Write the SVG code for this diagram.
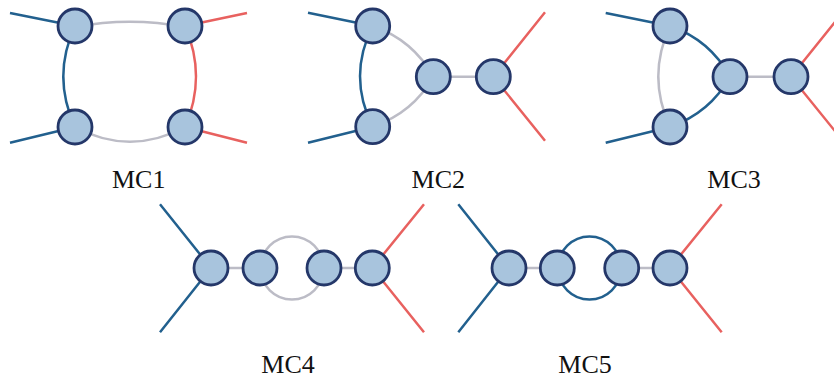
<svg xmlns="http://www.w3.org/2000/svg" width="834" height="383" viewBox="0 0 834 383">
<style>
.n{fill:#a8c4dd;stroke:#243769;stroke-width:2.8}
.e{fill:none;stroke-width:2.5;stroke-linecap:butt}
.b{stroke:#22608e}
.r{stroke:#e8615f}
.g{stroke:#bcbcc6}
.t{font-family:"Liberation Serif","DejaVu Serif",serif;font-size:26px;fill:#111;text-anchor:middle}
</style>
<rect width="834" height="383" fill="#fff"/>
<g id="connectors">
<path class="e b" d="M10,13 L75,26 M10,142.7 L75,127"/>
<path class="e r" d="M247,13 L185,26 M247,142.7 L185,127"/>
<path class="e g" d="M75,27 Q130,16.4 185,27"/>
<path class="e g" d="M75,127 Q130,156.5 185,127"/>
<path class="e b" d="M75,26 Q51.6,76.5 75,127"/>
<path class="e r" d="M185,26 Q207,76.5 185,127"/>
<path class="e b" d="M308,12.7 L372.7,26 M308,142.7 L372.7,126.7"/>
<path class="e r" d="M493.3,76.7 L545,12.3 M493.3,76.7 L545,140.7"/>
<path class="e b" d="M372.7,26 Q347.3,76.4 372.7,126.7"/>
<path class="e g" d="M372.7,26 Q413,40 433.3,76.7"/>
<path class="e g" d="M372.7,126.7 Q413,113 433.3,76.7"/>
<path class="e g" d="M433.3,76.7 L493.3,76.7"/>
<path class="e b" d="M605.7,13 L670,26 M605.7,142.7 L670,127"/>
<path class="e r" d="M791,76.7 L843,12 M791,76.7 L843,141"/>
<path class="e g" d="M670,26 Q646.6,76.5 670,127"/>
<path class="e b" d="M670,26 Q710,40 730,76.7"/>
<path class="e b" d="M670,127 Q710,113 730,76.7"/>
<path class="e g" d="M730,76.7 L791,76.7"/>
<path class="e b" d="M160,204.3 L211,268 M160,332.3 L211,268"/>
<path class="e r" d="M424,204.3 L372.3,268 M424,332.3 L372.3,268"/>
<path class="e g" d="M211,268 L260,268 M324,268 L372.3,268"/>
<circle class="e g" cx="292" cy="268" r="31.5"/>
<path class="e b" d="M458.3,204.3 L509,268 M458.3,332.3 L509,268"/>
<path class="e r" d="M721.7,204.3 L670,268 M721.7,332.3 L670,268"/>
<path class="e g" d="M509,268 L557.3,268 M621.7,268 L670,268"/>
<circle class="e b" cx="589.5" cy="268" r="31.5"/>
</g>
<g id="mc1-n1"><circle class="n" cx="75" cy="26" r="17"/></g>
<g id="mc1-n2"><circle class="n" cx="185" cy="26" r="17"/></g>
<g id="mc1-n3"><circle class="n" cx="75" cy="127" r="17"/></g>
<g id="mc1-n4"><circle class="n" cx="185" cy="127" r="17"/></g>
<g id="mc2-n1"><circle class="n" cx="372.7" cy="26" r="17"/></g>
<g id="mc2-n2"><circle class="n" cx="372.7" cy="126.7" r="17"/></g>
<g id="mc2-n3"><circle class="n" cx="433.3" cy="76.7" r="17"/></g>
<g id="mc2-n4"><circle class="n" cx="493.3" cy="76.7" r="17"/></g>
<g id="mc3-n1"><circle class="n" cx="670" cy="26" r="17"/></g>
<g id="mc3-n2"><circle class="n" cx="670" cy="127" r="17"/></g>
<g id="mc3-n3"><circle class="n" cx="730" cy="76.7" r="17"/></g>
<g id="mc3-n4"><circle class="n" cx="791" cy="76.7" r="17"/></g>
<g id="mc4-n1"><circle class="n" cx="211" cy="268" r="17"/></g>
<g id="mc4-n2"><circle class="n" cx="260" cy="268" r="17"/></g>
<g id="mc4-n3"><circle class="n" cx="324" cy="268" r="17"/></g>
<g id="mc4-n4"><circle class="n" cx="372.3" cy="268" r="17"/></g>
<g id="mc5-n1"><circle class="n" cx="509" cy="268" r="17"/></g>
<g id="mc5-n2"><circle class="n" cx="557.3" cy="268" r="17"/></g>
<g id="mc5-n3"><circle class="n" cx="621.7" cy="268" r="17"/></g>
<g id="mc5-n4"><circle class="n" cx="670" cy="268" r="17"/></g>
<g id="labels">
<text class="t" x="138.7" y="188">MC1</text>
<text class="t" x="438.3" y="188">MC2</text>
<text class="t" x="734" y="188">MC3</text>
<text class="t" x="288" y="372.7">MC4</text>
<text class="t" x="585" y="372.7">MC5</text>
</g>
</svg>
